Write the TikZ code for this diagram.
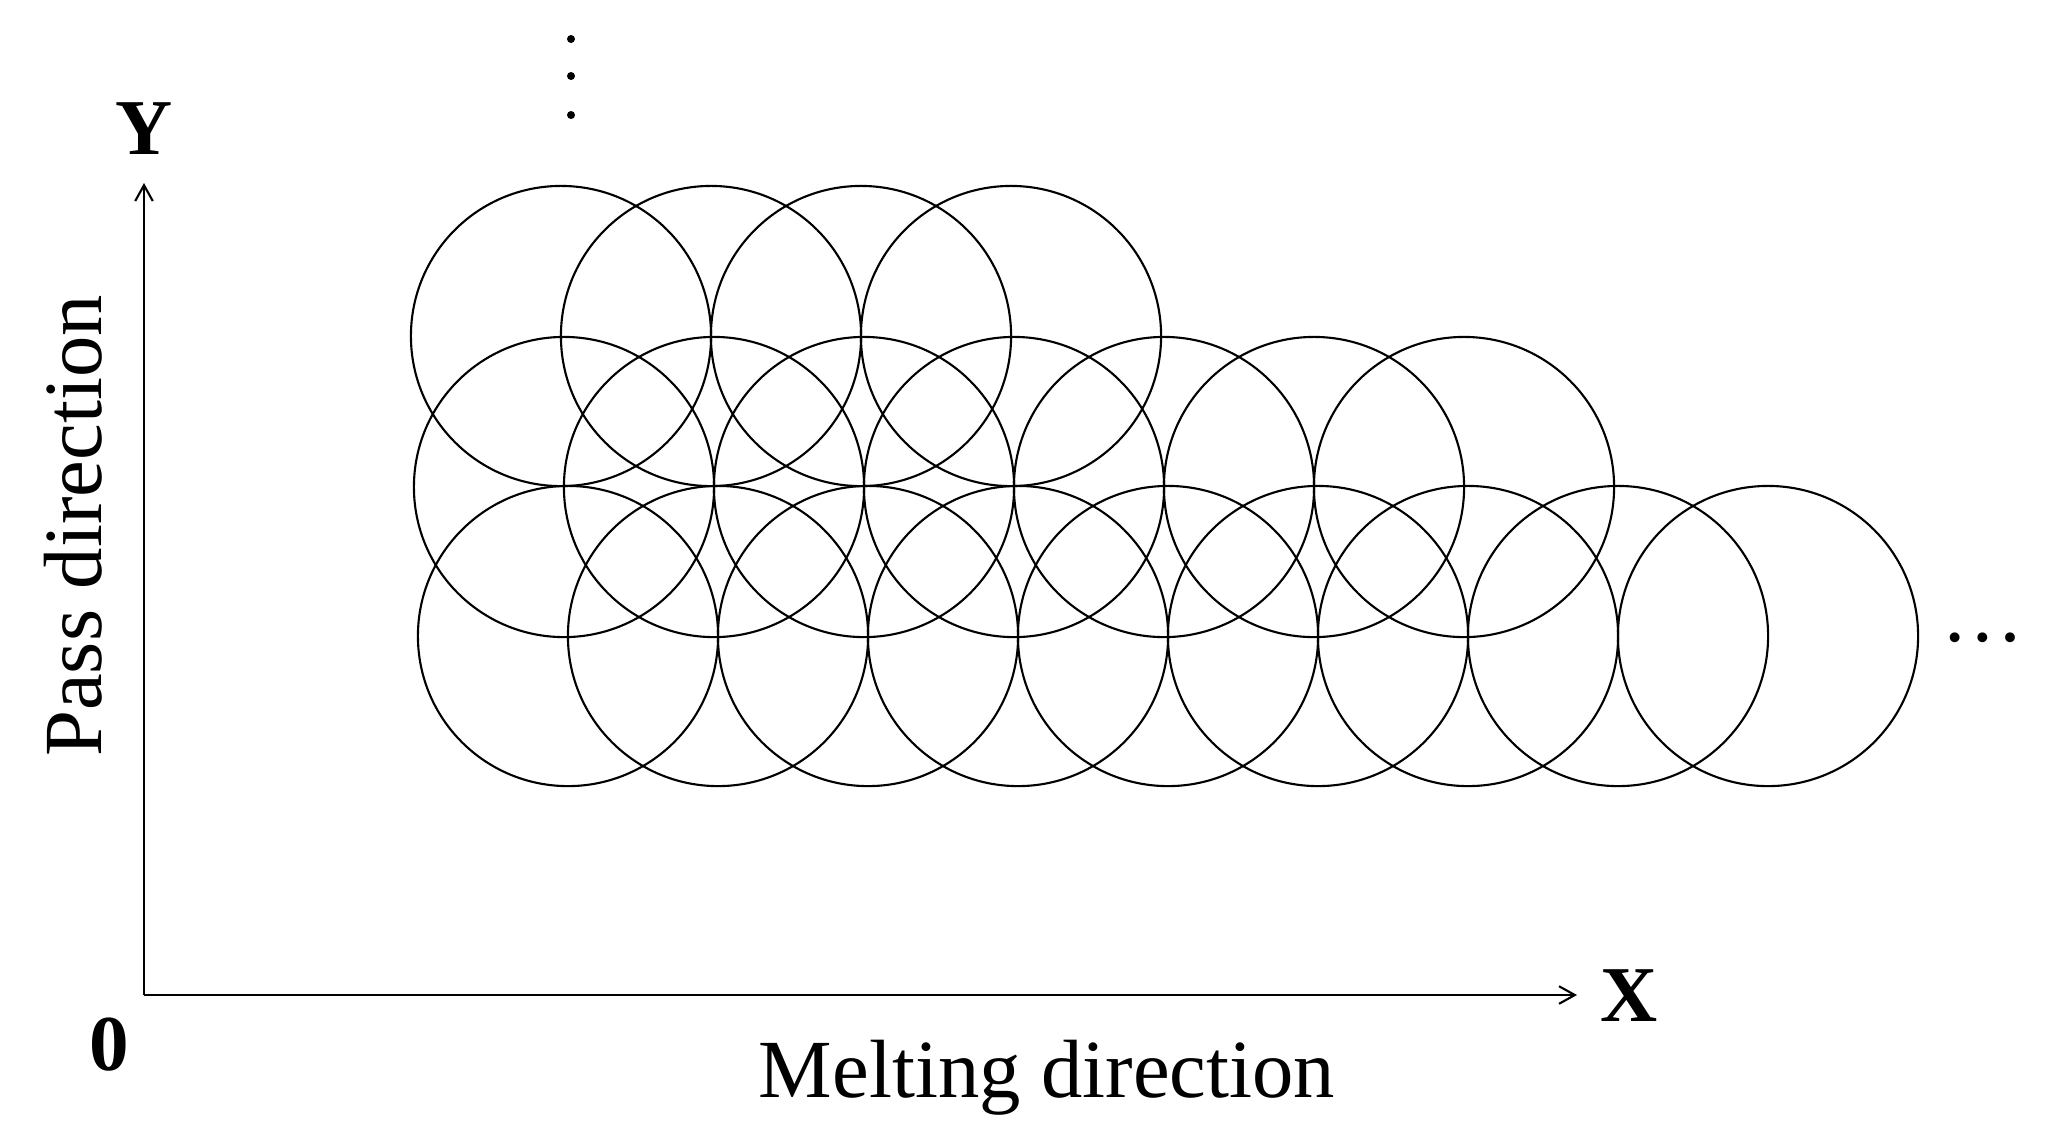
\documentclass[tikz,border=0pt]{standalone}
\usepackage{fontspec}
\setmainfont{Liberation Serif}
\usepackage{tikz}
\usetikzlibrary{arrows.meta}

\begin{document}
\begin{tikzpicture}[x=0.01cm, y=-0.01cm,
    ring/.style={line width=0.6pt},
    axis/.style={line width=0.6pt, -{Straight Barb[length=4.5pt, width=5pt]}},
    lbl/.style={font=\fontsize{23.5}{28}\selectfont, inner sep=0pt},
    axlbl/.style={font=\fontsize{22.5}{27}\selectfont\bfseries, inner sep=0pt}]
        \useasboundingbox (0,0) rectangle (2052,1144);
        % Bottom row of melt spots
        \draw[ring] (568,636) circle[radius=1.5cm];
        \draw[ring] (718,636) circle[radius=1.5cm];
        \draw[ring] (868,636) circle[radius=1.5cm];
        \draw[ring] (1018,636) circle[radius=1.5cm];
        \draw[ring] (1168,636) circle[radius=1.5cm];
        \draw[ring] (1318,636) circle[radius=1.5cm];
        \draw[ring] (1468,636) circle[radius=1.5cm];
        \draw[ring] (1618,636) circle[radius=1.5cm];
        \draw[ring] (1768,636) circle[radius=1.5cm];
        % Middle row
        \draw[ring] (564,487) circle[radius=1.5cm];
        \draw[ring] (714,487) circle[radius=1.5cm];
        \draw[ring] (864,487) circle[radius=1.5cm];
        \draw[ring] (1014,487) circle[radius=1.5cm];
        \draw[ring] (1164,487) circle[radius=1.5cm];
        \draw[ring] (1314,487) circle[radius=1.5cm];
        \draw[ring] (1464,487) circle[radius=1.5cm];
        % Top row
        \draw[ring] (561,336) circle[radius=1.5cm];
        \draw[ring] (711,336) circle[radius=1.5cm];
        \draw[ring] (861,336) circle[radius=1.5cm];
        \draw[ring] (1011,336) circle[radius=1.5cm];
        % Continuation marks
        \fill (571,39) circle[radius=0.04cm];
        \fill (571,76) circle[radius=0.04cm];
        \fill (571,115) circle[radius=0.04cm];
        \node[lbl, anchor=base] (hdots) at (1983,641) {…};
        % Axes
        \coordinate (origin) at (144,995);
        \coordinate (ytip) at (144,183);
        \coordinate (xtip) at (1577,995);
        \draw[axis] (origin) -- (ytip);
        \draw[axis] (origin) -- (xtip);
        % Axis labels
        \node[axlbl, anchor=base] (ylab) at (144,154) {Y};
        \node[axlbl, anchor=base] (xlab) at (1629,1021) {X};
        \node[axlbl, anchor=base] (zero) at (109,1070) {0};
        \node[lbl, anchor=base] (melt) at (1047,1097) {Melting direction};
        \node[lbl, anchor=base, rotate=90] (pass) at (101,526) {Pass direction};
      \end{tikzpicture}
\end{document}
